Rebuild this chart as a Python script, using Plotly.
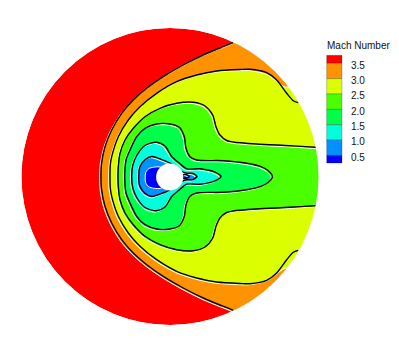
import plotly.graph_objects as go

# legend
legend_title = "Mach Number"
legend_levels = [3.5, 3.0, 2.5, 2.0, 1.5, 1.0, 0.5]
band_colors = ["#ff0000", "#ff9200", "#dbff00", "#49ff00", "#00ff49", "#00ffdb", "#0092ff", "#0000ff"]

# Mach isolines, upper half (x along the axis, h above the symmetry line)
m35_x = [101, 101.5, 105, 111.7, 121.7, 133.3, 146.7, 163.3, 183.3, 203.3, 221.7, 233.3]
m35_h = [0, 12.7, 29.8, 46.5, 63.2, 76.5, 88.2, 99.8, 111.5, 121.5, 129.2, 133.8]

m30_x = [110, 110.3, 111.7, 118.3, 128.3, 140, 156.7, 176.7, 196.7, 216.7, 240, 250, 266.7]
m30_h = [0, 11.5, 19.8, 39.8, 56.5, 69.8, 83.2, 94.8, 101.5, 105.5, 107, 107.2, 103.8]
m30_line_end_x = [276.7, 286.7, 293.3, 298.3]
m30_line_end_h = [96.5, 83.2, 75.8, 73.8]
m30_fill_end_x = [272, 287, 300, 340]
m30_fill_end_h = [101, 90.5, 95, 95]

m25_x = [118, 118.3, 120, 125, 133.3, 145, 160, 176.7, 193.3, 205, 212.7, 216, 220, 226.7, 233, 256.7, 290, 315, 325]
m25_h = [0, 9.8, 23.2, 36.5, 48.2, 59.8, 68.2, 73.2, 74.2, 70.5, 61.5, 49.8, 41.5, 36, 34.5, 32.5, 30.8, 29.2, 28.5]

m20_x = [124.7, 125, 126, 130, 136.7, 145, 156.7, 170, 179.3, 184.3, 186, 190, 196.7, 223.3, 246.7, 261, 268, 272.5]
m20_h = [0, 8, 16.5, 26.5, 39.8, 48.2, 52.5, 52.5, 49.2, 39.8, 28.2, 19.8, 16.5, 15.8, 13.2, 9.8, 6, 0]

m15_x = [131.7, 132.7, 136.7, 145, 156.7, 165, 171.7, 180, 186.7, 200, 215, 221]
m15_h = [0, 11, 21, 31, 34.3, 30.5, 20, 12.7, 7.7, 7.7, 4.3, 0]

m10_x = [138.7, 140, 145, 151.7, 160, 170, 180, 186.7, 193, 197]
m10_h = [0, 10, 16.7, 20, 17.7, 13.3, 6, 3.3, 3, 0]

m05_x = [146.5, 147, 150, 155, 162, 175]
m05_h = [0, 5, 9, 10.5, 10.5, 0]
m05_tail_x = [183, 186, 189.5]
m05_tail_h = [1.5, 2, 0]

right_x = [260, 340]
right_h = [150, 150]

# disk and body
disk_cx, disk_r = 170, 148.5
body_cx, body_cy, body_r = 169.7, -0.5, 13.6
axis_row = 176.5
fill_dx, fill_dy = -1.3, -1.2


def mirror(x, h):
    """Lower half reversed, then upper half, joined on the axis."""
    skip = 1 if h[0] == 0 else 0
    return ([v for v in reversed(x)] + x[skip:],
            [-v for v in reversed(h)] + h[skip:])


fig = go.Figure()


def add_fill(x, h, color):
    mx, mh = mirror(x, h)
    fig.add_trace(go.Scatter(
        x=[v + fill_dx for v in mx], y=[v + fill_dy for v in mh], mode="lines",
        line=dict(color="white", width=1, shape="spline", smoothing=0.8),
        fill="toself", fillcolor=color, hoverinfo="skip", showlegend=False))


def add_line(x, h):
    mx, mh = mirror(x, h)
    fig.add_trace(go.Scatter(
        x=mx, y=mh, mode="lines",
        line=dict(color="black", width=1.4, shape="spline", smoothing=0.8),
        hoverinfo="skip", showlegend=False))


add_fill(m35_x + right_x, m35_h + right_h, band_colors[1])
add_fill(m30_x + m30_fill_end_x, m30_h + m30_fill_end_h, band_colors[2])
add_fill(m25_x, m25_h, band_colors[3])
add_fill(m20_x, m20_h, band_colors[4])
add_fill(m15_x, m15_h, band_colors[5])
add_fill(m10_x, m10_h, band_colors[6])
add_fill(m05_x, m05_h, band_colors[7])
add_fill(m05_tail_x, m05_tail_h, band_colors[7])

for lx, lh in [(m35_x, m35_h), (m30_x + m30_line_end_x, m30_h + m30_line_end_h),
               (m25_x, m25_h), (m20_x, m20_h), (m15_x, m15_h), (m10_x, m10_h),
               (m05_tail_x, m05_tail_h)]:
    add_line(lx, lh)

shapes = [
    dict(type="circle", layer="below", xref="x", yref="y",
         x0=disk_cx - disk_r, x1=disk_cx + disk_r, y0=-disk_r, y1=disk_r,
         fillcolor=band_colors[0], line_width=0),
    # outside of the disk stays blank
    dict(type="circle", layer="above", xref="x", yref="y",
         x0=disk_cx - disk_r - 50, x1=disk_cx + disk_r + 50, y0=-disk_r - 50, y1=disk_r + 50,
         fillcolor="rgba(0,0,0,0)", line=dict(color="white", width=100)),
    dict(type="circle", layer="above", xref="x", yref="y",
         x0=body_cx - body_r, x1=body_cx + body_r, y0=body_cy - body_r, y1=body_cy + body_r,
         fillcolor="white", line_width=0),
]

# legend, placed in page pixels (paper fractions)
W, H = 399, 344
box_x0, box_x1 = 326.7, 342
edges = [55.3, 63.3, 78.7, 94, 109.4, 124.8, 140, 155.4, 163]
for i, c in enumerate(band_colors):
    shapes.append(dict(type="rect", layer="above", xref="paper", yref="paper",
                       x0=box_x0 / W, x1=box_x1 / W,
                       y0=1 - edges[i + 1] / H, y1=1 - edges[i] / H,
                       fillcolor=c, line=dict(color="rgba(0,0,0,0.45)", width=0.5)))

font = dict(family="Liberation Sans, Arial, sans-serif", size=10, color="#111111")
annotations = [dict(text=legend_title, xref="paper", yref="paper", x=325 / W, y=1 - 45.5 / H,
                    xanchor="left", yanchor="middle", showarrow=False, font=font)]
for lev, edge in zip(legend_levels, edges[1:]):
    annotations.append(dict(text=f"{lev:.1f}", xref="paper", yref="paper", x=348.5 / W, y=1 - (edge + 1.8) / H,
                            xanchor="left", yanchor="middle", showarrow=False, font=font))

fig.update_layout(
    width=W, height=H, autosize=False,
    margin=dict(l=0, r=0, t=0, b=0),
    paper_bgcolor="white", plot_bgcolor="white",
    showlegend=False, shapes=shapes, annotations=annotations,
    xaxis=dict(range=[0, W], visible=False, fixedrange=True),
    yaxis=dict(range=[axis_row - H, axis_row], visible=False, fixedrange=True),
)
fig.write_html("out.html", config=dict(displayModeBar=False),
               post_script="document.body.style.margin='0';document.body.style.overflow='hidden';")
